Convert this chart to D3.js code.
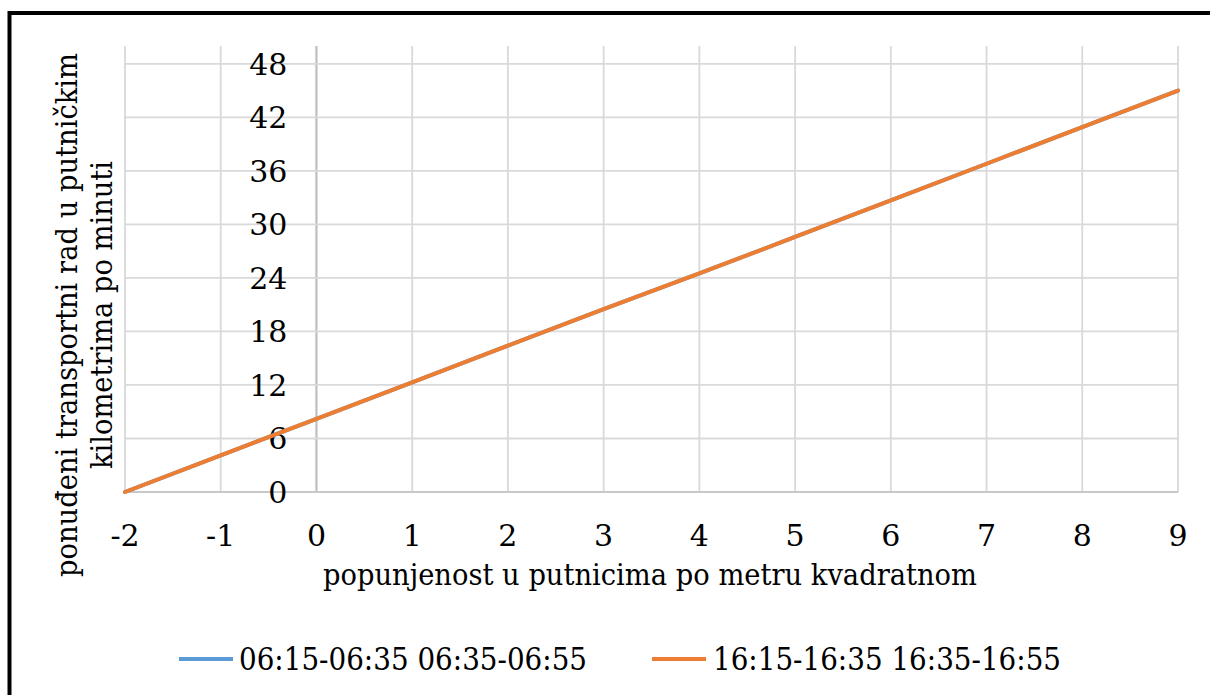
<!DOCTYPE html>
<html>
<head>
<meta charset="utf-8">
<script src="https://cdn.jsdelivr.net/npm/d3@7"></script>
<style>
  html, body { margin: 0; padding: 0; background: #fff; }
  svg { display: block; }
  text { font-family: "DejaVu Serif", "Liberation Serif", serif; fill: #000; }
</style>
</head>
<body>
<svg id="chart" width="1210" height="695"></svg>
<script>
// ---- data ----
const xValues = [-2, -1, 0, 1, 2, 3, 4, 5, 6, 7, 8, 9];
const morningValues = [0, 4.1, 8.2, 12.3, 16.4, 20.5, 24.5, 28.6, 32.7, 36.8, 40.9, 45.0];
const afternoonValues = [0, 4.1, 8.2, 12.3, 16.4, 20.5, 24.5, 28.6, 32.7, 36.8, 40.9, 45.0];
const seriesNames = ["06:15-06:35 06:35-06:55", "16:15-16:35 16:35-16:55"];
const xTicks = [-2, -1, 0, 1, 2, 3, 4, 5, 6, 7, 8, 9];
const yTicks = [0, 6, 12, 18, 24, 30, 36, 42, 48];
const xTitle = "popunjenost u putnicima po metru kvadratnom";
const yTitleLines = ["ponuđeni transportni rad u putničkim", "kilometrima po minuti"];
const colors = ["#5B9BD5", "#ED7D31"];

const svg = d3.select("#chart");

// frame
svg.append("rect")
  .attr("x", 9.5).attr("y", 13)
  .attr("width", 1300).attr("height", 800)
  .attr("fill", "none").attr("stroke", "#000").attr("stroke-width", 4);

const x = d3.scaleLinear().domain([-2, 9]).range([125, 1178]);
const y = d3.scaleLinear().domain([0, 50]).range([492, 46]);

const grid = svg.append("g");
// vertical gridlines
grid.selectAll("line.v").data(xTicks).enter().append("line")
  .attr("x1", d => x(d)).attr("x2", d => x(d))
  .attr("y1", y(50)).attr("y2", y(0))
  .attr("stroke", d => d === 0 ? "#bfbfbf" : "#d9d9d9")
  .attr("stroke-width", d => d === 0 ? 2.2 : 1.8);
// horizontal gridlines
grid.selectAll("line.h").data(yTicks).enter().append("line")
  .attr("x1", x(-2)).attr("x2", x(9))
  .attr("y1", d => y(d)).attr("y2", d => y(d))
  .attr("stroke", d => d === 0 ? "#c8c8c8" : "#d9d9d9")
  .attr("stroke-width", d => d === 0 ? 2.2 : 1.8);

// y tick labels
svg.append("g").selectAll("text").data(yTicks).enter().append("text")
  .attr("x", x(0) - 29)
  .attr("y", d => y(d) + 11)
  .attr("text-anchor", "end")
  .attr("font-size", 30)
  .text(d => d);

// x tick labels
svg.append("g").selectAll("text").data(xTicks).enter().append("text")
  .attr("x", d => x(d))
  .attr("y", 546)
  .attr("text-anchor", "middle")
  .attr("font-size", 30)
  .text(d => d);

// lines
const line = d3.line().x((d, i) => x(xValues[i])).y(d => y(d));
[morningValues, afternoonValues].forEach((vals, k) => {
  svg.append("path")
    .datum(vals)
    .attr("d", line)
    .attr("fill", "none")
    .attr("stroke", colors[k])
    .attr("stroke-width", 4)
    .attr("stroke-linecap", "round");
});

// axis titles
svg.append("text")
  .attr("x", 650).attr("y", 585)
  .attr("text-anchor", "middle")
  .attr("font-size", 30)
  .attr("textLength", 654).attr("lengthAdjust", "spacingAndGlyphs")
  .text(xTitle);

const yt = svg.append("g").attr("transform", "translate(0,315) rotate(-90)");
yt.append("text")
  .attr("x", 0).attr("y", 77)
  .attr("text-anchor", "middle")
  .attr("font-size", 30)
  .attr("textLength", 524).attr("lengthAdjust", "spacingAndGlyphs")
  .text(yTitleLines[0]);
yt.append("text")
  .attr("x", 0).attr("y", 112)
  .attr("text-anchor", "middle")
  .attr("font-size", 30)
  .attr("textLength", 308).attr("lengthAdjust", "spacingAndGlyphs")
  .text(yTitleLines[1]);

// legend
const legendItems = [
  { sx: 179, tx: 239, len: 348 },
  { sx: 652, tx: 713, len: 348 }
];
legendItems.forEach((it, k) => {
  svg.append("line")
    .attr("x1", it.sx).attr("x2", it.sx + 54)
    .attr("y1", 659).attr("y2", 659)
    .attr("stroke", colors[k]).attr("stroke-width", 4);
  svg.append("text")
    .attr("x", it.tx).attr("y", 670)
    .attr("font-size", 31)
    .attr("textLength", it.len).attr("lengthAdjust", "spacingAndGlyphs")
    .text(seriesNames[k]);
});
</script>
</body>
</html>
